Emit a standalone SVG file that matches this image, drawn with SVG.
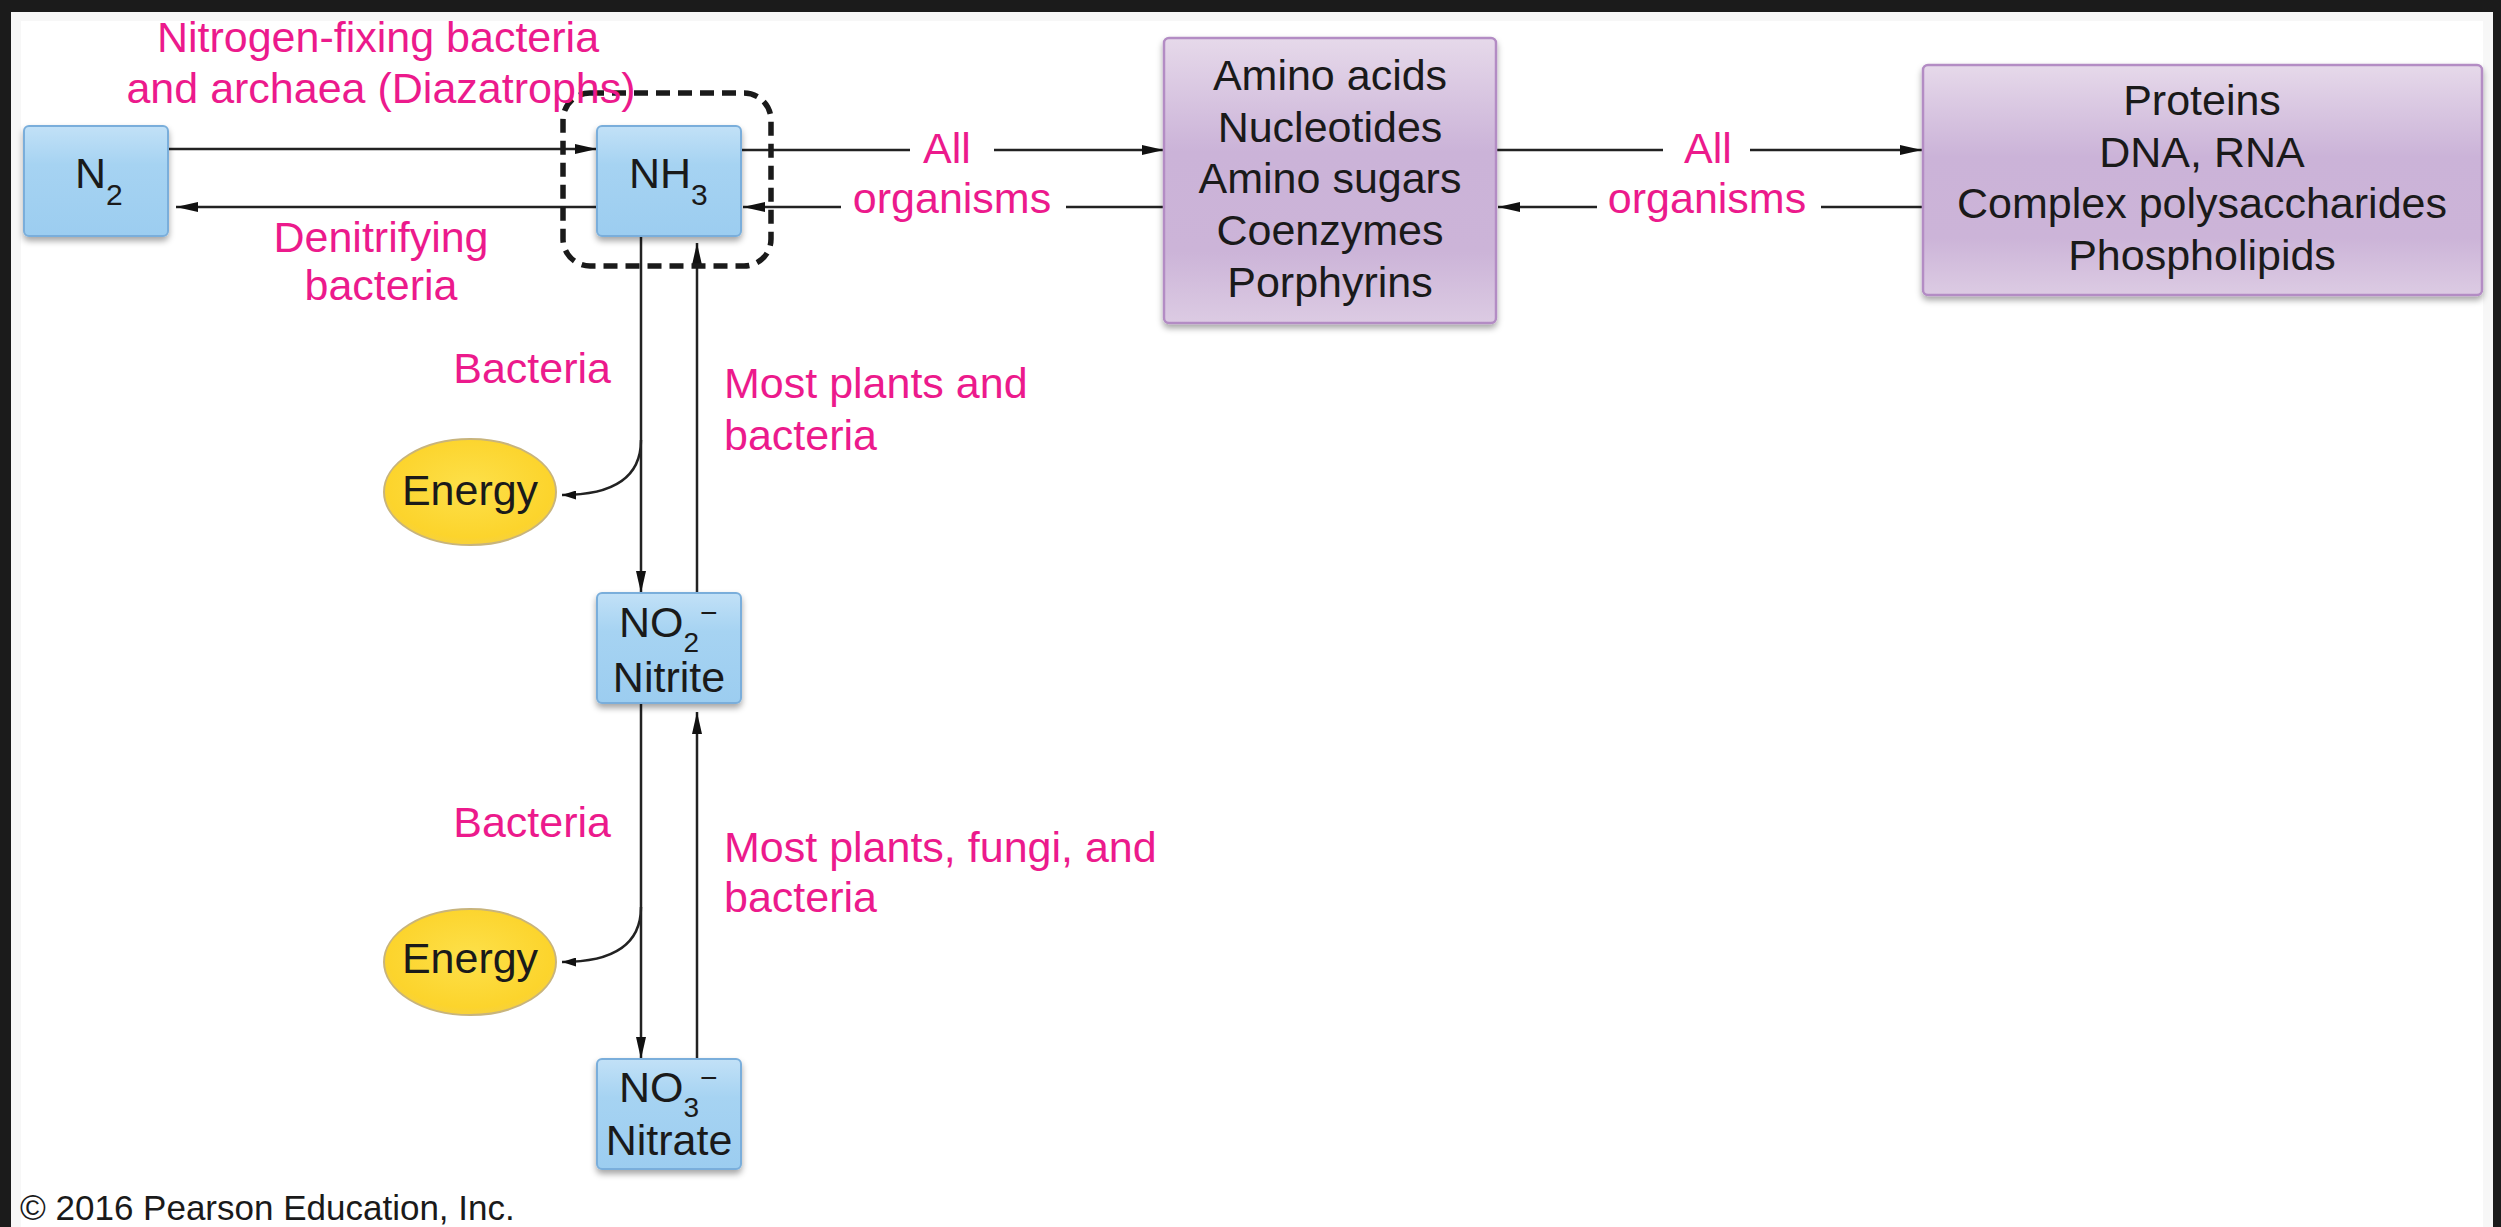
<svg xmlns="http://www.w3.org/2000/svg" width="2501" height="1227" viewBox="0 0 2501 1227">
<defs>
<style>
.lbl{font-family:"Liberation Sans",Arial,sans-serif;font-size:43px;fill:#1a1a1a}
.pink{font-family:"Liberation Sans",Arial,sans-serif;font-size:43px;fill:#ec1a8c}
.mid{text-anchor:middle}
.end{text-anchor:end}
.ln{fill:none;stroke:#222;stroke-width:2.5}
.blue{fill:url(#gBlue);stroke:#7aaedb;stroke-width:2;filter:url(#sh)}
.purp{fill:url(#gPurp);stroke:#b38cc4;stroke-width:2.5;filter:url(#sh)}
.egy{fill:url(#gGold);stroke:#c8b47c;stroke-width:2}
</style>
<linearGradient id="gBlue" x1="0" y1="0" x2="0" y2="1">
<stop offset="0" stop-color="#c2e1f7"/>
<stop offset="0.35" stop-color="#a6d3f2"/>
<stop offset="1" stop-color="#9ccdf0"/>
</linearGradient>
<linearGradient id="gPurp" x1="0" y1="0" x2="0" y2="1">
<stop offset="0" stop-color="#e6d9ea"/>
<stop offset="0.4" stop-color="#cbb3d8"/>
<stop offset="0.75" stop-color="#ccb4d8"/>
<stop offset="1" stop-color="#dccbe3"/>
</linearGradient>
<radialGradient id="gGold" cx="0.5" cy="0.45" r="0.6">
<stop offset="0" stop-color="#fde04a"/>
<stop offset="0.8" stop-color="#fcd42c"/>
<stop offset="1" stop-color="#f3cf48"/>
</radialGradient>
<filter id="sh" x="-10%" y="-10%" width="120%" height="125%">
<feDropShadow dx="0" dy="4" stdDeviation="3" flood-color="#000" flood-opacity="0.35"/>
</filter>
<marker id="ah" viewBox="0 0 22 10" refX="22" refY="5" markerWidth="22" markerHeight="10" markerUnits="userSpaceOnUse" orient="auto">
<path d="M0,0 L22,5 L0,10 Z" fill="#111"/>
</marker>
<marker id="ahs" viewBox="0 0 14 9" refX="14" refY="4.5" markerWidth="14" markerHeight="9" markerUnits="userSpaceOnUse" orient="auto">
<path d="M0,0 L14,4.5 L0,9 Z" fill="#111"/>
</marker>
</defs>

<rect x="0" y="0" width="2501" height="1227" fill="#1b1b1b"/>
<rect x="11" y="12" width="2482" height="1215" fill="#f7f7f7"/>
<rect x="21" y="21" width="2462" height="1206" fill="#ffffff"/>

<g id="connectors">
<path class="ln" d="M168,149 L597,149" marker-end="url(#ah)"/>
<path class="ln" d="M597,207 L176,207" marker-end="url(#ah)"/>
<path class="ln" d="M741,150 L910,150"/>
<path class="ln" d="M994,150 L1164,150" marker-end="url(#ah)"/>
<path class="ln" d="M1164,207 L1066,207"/>
<path class="ln" d="M841,207 L743,207" marker-end="url(#ah)"/>
<path class="ln" d="M1496,150 L1663,150"/>
<path class="ln" d="M1750,150 L1922,150" marker-end="url(#ah)"/>
<path class="ln" d="M1923,207 L1821,207"/>
<path class="ln" d="M1597,207 L1498,207" marker-end="url(#ah)"/>
<path class="ln" d="M641,236 L641,593" marker-end="url(#ah)"/>
<path class="ln" d="M697,593 L697,243" marker-end="url(#ah)"/>
<path class="ln" d="M641,440 Q641,495 562,495" marker-end="url(#ahs)"/>
<path class="ln" d="M641,703 L641,1059" marker-end="url(#ah)"/>
<path class="ln" d="M697,1059 L697,712" marker-end="url(#ah)"/>
<path class="ln" d="M641,907 Q641,962 562,962" marker-end="url(#ahs)"/>
</g>

<g id="nh3-highlight">
<rect x="563" y="93" width="208" height="173" rx="27" fill="none" stroke="#1a1a1a" stroke-width="5.5" stroke-dasharray="14 8"/>
</g>

<g id="n2">
<rect class="blue" x="24" y="126" width="144" height="110" rx="5"/>
<text class="lbl" x="75" y="188">N<tspan font-size="30" dy="17">2</tspan></text>
</g>

<g id="nh3">
<rect class="blue" x="597" y="126" width="144" height="110" rx="5"/>
<text class="lbl" x="629" y="188">NH<tspan font-size="30" dy="17">3</tspan></text>
</g>

<g id="no2">
<rect class="blue" x="597" y="593" width="144" height="110" rx="5"/>
<text class="lbl" x="619" y="637">NO<tspan font-size="28" dy="15">2</tspan><tspan font-size="30" x="700" y="623">−</tspan></text>
<text class="lbl mid" x="669" y="692">Nitrite</text>
</g>

<g id="no3">
<rect class="blue" x="597" y="1059" width="144" height="110" rx="5"/>
<text class="lbl" x="619" y="1102">NO<tspan font-size="28" dy="15">3</tspan><tspan font-size="30" x="700" y="1088">−</tspan></text>
<text class="lbl mid" x="669" y="1155">Nitrate</text>
</g>

<g id="biomolecules">
<rect class="purp" x="1164" y="38" width="332" height="285" rx="5"/>
<text class="lbl mid" x="1330" y="90">Amino acids</text>
<text class="lbl mid" x="1330" y="142">Nucleotides</text>
<text class="lbl mid" x="1330" y="193">Amino sugars</text>
<text class="lbl mid" x="1330" y="245">Coenzymes</text>
<text class="lbl mid" x="1330" y="297">Porphyrins</text>
</g>

<g id="macromolecules">
<rect class="purp" x="1923" y="65" width="559" height="230" rx="5"/>
<text class="lbl mid" x="2202" y="115">Proteins</text>
<text class="lbl mid" x="2202" y="167">DNA, RNA</text>
<text class="lbl mid" x="2202" y="218">Complex polysaccharides</text>
<text class="lbl mid" x="2202" y="270">Phospholipids</text>
</g>

<g id="energy1">
<ellipse class="egy" cx="470" cy="492" rx="86" ry="53"/>
<text class="lbl mid" x="470" y="505">Energy</text>
</g>

<g id="energy2">
<ellipse class="egy" cx="470" cy="962" rx="86" ry="53"/>
<text class="lbl mid" x="470" y="973">Energy</text>
</g>

<g id="labels">
<text class="pink mid" x="378" y="52" font-size="41">Nitrogen-fixing bacteria</text>
<text class="pink mid" x="381" y="103">and archaea (Diazatrophs)</text>
<text class="pink mid" x="381" y="252">Denitrifying</text>
<text class="pink mid" x="381" y="300">bacteria</text>
<text class="pink mid" x="947" y="163">All</text>
<text class="pink mid" x="952" y="213">organisms</text>
<text class="pink mid" x="1708" y="163">All</text>
<text class="pink mid" x="1707" y="213">organisms</text>
<text class="pink end" x="611" y="383">Bacteria</text>
<text class="pink" x="724" y="398">Most plants and</text>
<text class="pink" x="724" y="450">bacteria</text>
<text class="pink end" x="611" y="837">Bacteria</text>
<text class="pink" x="724" y="862">Most plants, fungi, and</text>
<text class="pink" x="724" y="912">bacteria</text>
</g>

<text x="20" y="1220" style="font-family:'Liberation Sans',Arial,sans-serif;font-size:35px;fill:#1a1a1a">© 2016 Pearson Education, Inc.</text>
</svg>
